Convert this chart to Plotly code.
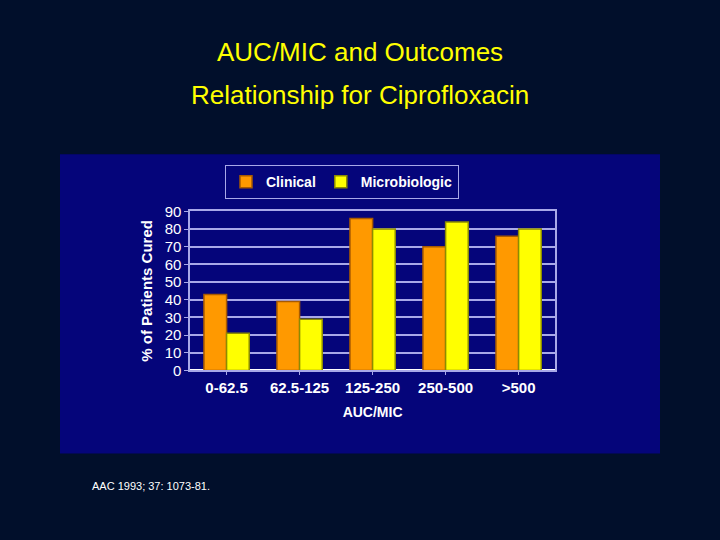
import plotly.graph_objects as go

# AUC/MIC groups and cure rates (%)
auc_mic = ['0-62.5', '62.5-125', '125-250', '250-500', '>500']
clinical = [43, 39, 86, 70, 76]
microbiologic = [21, 29, 80, 84, 80]
y_ticks = [0, 10, 20, 30, 40, 50, 60, 70, 80, 90]

BG = '#010f2b'
PANEL = '#05057a'
GRID = '#a8a8e8'
SANS = 'Liberation Sans, Arial, sans-serif'

fig = go.Figure()
fig.add_trace(go.Bar(x=auc_mic, y=clinical, name='<b>Clinical</b>',
                     marker=dict(color='#ff9900', line=dict(color='#a85a00', width=1.5))))
fig.add_trace(go.Bar(x=auc_mic, y=microbiologic, name='<b>Microbiologic</b>',
                     marker=dict(color='#ffff00', line=dict(color='#8c8c00', width=1.5))))

fig.update_layout(
    width=720, height=540,
    autosize=False,
    margin=dict(l=0, r=0, t=0, b=0),
    paper_bgcolor=BG,
    plot_bgcolor=PANEL,
    barmode='group', bargap=0.38, bargroupgap=0.0,
    font=dict(family=SANS, color='white'),
    showlegend=True,
    legend=dict(orientation='h', x=0.475, y=0.669, xanchor='center', yanchor='middle',
                bgcolor=PANEL, bordercolor=GRID, borderwidth=1,
                font=dict(size=14, color='white', family=SANS),
                itemwidth=30, tracegroupgap=0),
    xaxis=dict(domain=[0.264, 0.771], showgrid=False, showline=True, linecolor=GRID,
               linewidth=1.5, mirror=True, ticks='outside', tickcolor=GRID, ticklen=3,
               tickprefix='<b>', ticksuffix='</b>',
               tickfont=dict(size=15, color='white', family=SANS),
               title=dict(text='<b>AUC/MIC</b>', font=dict(size=14, color='white'), standoff=12)),
    yaxis=dict(domain=[0.309, 0.613], range=[0, 90], tickvals=y_ticks,
               showgrid=True, gridcolor=GRID, gridwidth=1.5, showline=True, linecolor=GRID,
               linewidth=1.5, mirror=True, ticks='outside', tickcolor=GRID, ticklen=4,
               tickprefix='<b>', ticksuffix='</b>',
               tickfont=dict(size=15, color='white', family=SANS),
               title=dict(text='<b>% of Patients Cured</b>', font=dict(size=15, color='white'),
                          standoff=8)),
)

# navy panel behind the chart
fig.add_shape(type='rect', xref='paper', yref='paper', x0=60 / 720, x1=660 / 720,
              y0=1 - 459 / 540, y1=1 - 150 / 540, fillcolor=PANEL, line=dict(width=0),
              layer='below')

# slide title and source
fig.add_annotation(text='AUC/MIC and Outcomes', x=0.5, y=1 - 44 / 540, xref='paper', yref='paper',
                   showarrow=False, yanchor='middle',
                   font=dict(size=26, color='#ffff00', family=SANS))
fig.add_annotation(text='Relationship for Ciprofloxacin', x=0.5, y=1 - 89 / 540, xref='paper', yref='paper',
                   showarrow=False, yanchor='middle',
                   font=dict(size=26, color='#ffff00', family=SANS))
fig.add_annotation(text='AAC 1993; 37: 1073-81.', x=90 / 720, y=1 - 492 / 540, xref='paper', yref='paper',
                   showarrow=False, xanchor='left', yanchor='middle',
                   font=dict(size=11, color='white', family=SANS))

fig.write_html('out.html', config={'displayModeBar': False, 'responsive': False},
               post_script="document.body.style.margin='0';")
